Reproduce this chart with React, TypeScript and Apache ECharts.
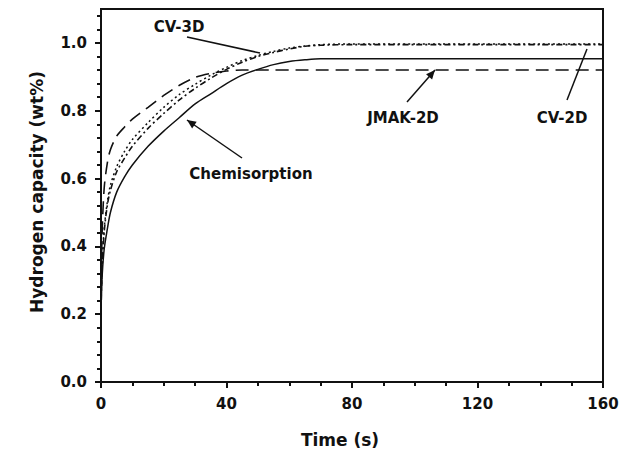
import React, { useEffect, useRef } from "react";
import * as echarts from "echarts";

const times = [0, 0.3, 1, 2, 3, 5, 7.5, 10, 15, 20, 25, 30, 35, 40, 45, 50, 55, 60, 65, 70, 80, 100, 120, 140, 160];
const chemisorption = [0.2, 0.3, 0.39, 0.45, 0.5, 0.56, 0.605, 0.64, 0.695, 0.74, 0.78, 0.82, 0.85, 0.88, 0.905, 0.922, 0.936, 0.945, 0.95, 0.953, 0.953, 0.953, 0.953, 0.953, 0.953];
const jmak2d = [0.2, 0.42, 0.57, 0.645, 0.685, 0.725, 0.752, 0.775, 0.81, 0.845, 0.875, 0.898, 0.91, 0.917, 0.92, 0.92, 0.92, 0.92, 0.92, 0.92, 0.92, 0.92, 0.92, 0.92, 0.92];
const cv3d = [0.2, 0.33, 0.45, 0.53, 0.58, 0.635, 0.68, 0.715, 0.765, 0.81, 0.848, 0.878, 0.905, 0.928, 0.948, 0.963, 0.975, 0.985, 0.991, 0.995, 0.997, 0.997, 0.997, 0.997, 0.997];
const cv2d = [0.2, 0.32, 0.44, 0.52, 0.565, 0.62, 0.66, 0.695, 0.748, 0.792, 0.832, 0.866, 0.896, 0.922, 0.943, 0.96, 0.972, 0.982, 0.99, 0.993, 0.995, 0.995, 0.995, 0.995, 0.995];

const yMajorTicks = [0, 0.2, 0.4, 0.6, 0.8, 1.0];
const yMinorTicks = [0.04, 0.08, 0.12, 0.16, 0.24, 0.28, 0.32, 0.36, 0.44, 0.48, 0.52, 0.56, 0.64, 0.68, 0.72, 0.76, 0.84, 0.88, 0.92, 0.96, 1.04, 1.08];

const FONT = "DejaVu Sans";
const INK = "#111";

function pair(ys: number[]) {
  return times.map((t, i) => [t, ys[i]]);
}

function arrowHead(x1: number, y1: number, x2: number, y2: number) {
  const a = Math.atan2(y2 - y1, x2 - x1);
  const L = 9, W = 4;
  const bx = x2 - L * Math.cos(a), by = y2 - L * Math.sin(a);
  return {
    type: "polygon",
    shape: {
      points: [
        [x2, y2],
        [bx + W * Math.sin(a), by - W * Math.cos(a)],
        [bx - W * Math.sin(a), by + W * Math.cos(a)],
      ],
    },
    style: { fill: INK },
    silent: true,
  };
}

function line(x1: number, y1: number, x2: number, y2: number) {
  return { type: "line", shape: { x1, y1, x2, y2 }, style: { stroke: INK, lineWidth: 1.5 }, silent: true };
}

function label(text: string, x: number, y: number) {
  return {
    type: "text",
    x,
    y,
    style: { text, fill: INK, font: `bold 15px "${FONT}"`, textAlign: "center", textVerticalAlign: "middle" },
    silent: true,
  };
}

export default function App() {
  const ref = useRef<HTMLDivElement>(null);
  useEffect(() => {
    document.body.style.margin = "0";
    const chart = echarts.init(ref.current!, null, { renderer: "svg" });
    const lineBase = { type: "line", showSymbol: false, smooth: 0.3, xAxisIndex: 0, yAxisIndex: 0 };
    chart.setOption({
      animation: false,
      backgroundColor: "#fff",
      grid: { left: 101, right: 28, top: 9, bottom: 69, show: true, borderColor: INK, borderWidth: 2, backgroundColor: "transparent" },
      xAxis: [
        {
          type: "value",
          min: 0,
          max: 160,
          interval: 40,
          axisLine: { show: true, lineStyle: { color: INK, width: 2 } },
          axisTick: { show: true, inside: false, length: 6, lineStyle: { color: INK, width: 2 } },
          minorTick: { show: true, splitNumber: 4, length: 4, lineStyle: { color: INK, width: 2 } },
          axisLabel: { color: INK, fontFamily: FONT, fontWeight: "bold", fontSize: 15, margin: 14 },
          splitLine: { show: false },
        },
      ],
      yAxis: [
        {
          type: "value",
          min: 0,
          max: 1.1,
          axisLine: { show: true, lineStyle: { color: INK, width: 2 } },
          axisTick: { show: true, inside: false, length: 6, lineStyle: { color: INK, width: 2 }, customValues: yMajorTicks },
          axisLabel: {
            color: INK,
            fontFamily: FONT,
            fontWeight: "bold",
            fontSize: 15,
            margin: 14,
            customValues: yMajorTicks,
            formatter: (v: number) => v.toFixed(1),
          },
          splitLine: { show: false },
        },
        {
          type: "value",
          min: 0,
          max: 1.1,
          position: "left",
          axisLine: { show: false },
          axisTick: { show: true, inside: false, length: 4, lineStyle: { color: INK, width: 2 }, customValues: yMinorTicks },
          axisLabel: { show: false },
          splitLine: { show: false },
        },
      ],
      series: [
        { ...lineBase, name: "Chemisorption", data: pair(chemisorption), lineStyle: { color: INK, width: 1.5, type: "solid" } },
        { ...lineBase, name: "JMAK-2D", data: pair(jmak2d), lineStyle: { color: INK, width: 1.6, type: [13, 7] } },
        { ...lineBase, name: "CV-3D", data: pair(cv3d), lineStyle: { color: INK, width: 1.5, type: [2, 3] } },
        { ...lineBase, name: "CV-2D", data: pair(cv2d), lineStyle: { color: INK, width: 1.6, type: [6, 3, 2, 3] } },
      ],
      graphic: [
        {
          type: "text",
          x: 340,
          y: 440,
          style: { text: "Time (s)", fill: INK, font: `bold 17px "${FONT}"`, textAlign: "center", textVerticalAlign: "middle" },
          silent: true,
        },
        {
          type: "text",
          x: 37,
          y: 192,
          rotation: Math.PI / 2,
          style: { text: "Hydrogen capacity (wt%)", fill: INK, font: `bold 17px "${FONT}"`, textAlign: "center", textVerticalAlign: "middle" },
          silent: true,
        },
        label("CV-3D", 179, 27),
        line(187, 37, 260, 53),
        label("Chemisorption", 251, 174),
        line(242, 158, 187, 120),
        arrowHead(242, 158, 187, 120),
        label("JMAK-2D", 403, 118),
        line(407, 102, 435, 70),
        arrowHead(407, 102, 435, 70),
        label("CV-2D", 562, 118),
        line(567, 100, 587, 49),
      ],
    });
    return () => chart.dispose();
  }, []);
  return <div ref={ref} style={{ width: 631, height: 451 }} />;
}
